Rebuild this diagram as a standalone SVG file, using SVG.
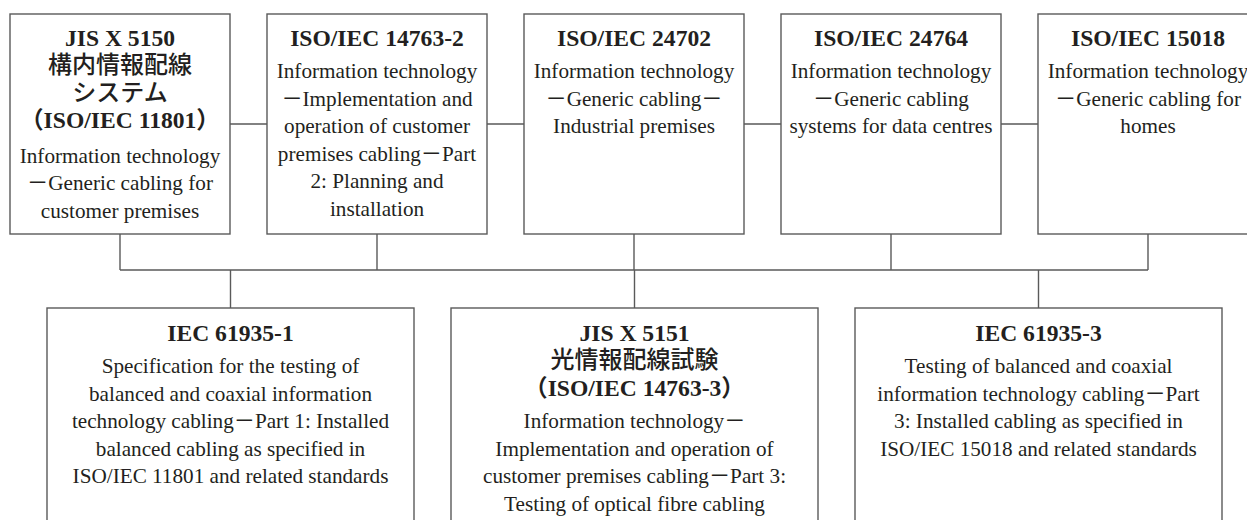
<svg xmlns="http://www.w3.org/2000/svg" width="1247" height="520" viewBox="0 0 1247 520">
<style>
.box{fill:#fff;stroke:#5a5a5a;stroke-width:1.4}
.ln{fill:none;stroke:#5a5a5a;stroke-width:1.4}
text{text-anchor:middle;fill:#231f20}
.t{font-family:"Liberation Serif","Noto Sans CJK JP",serif;font-weight:bold;font-size:23.6px}
.j{font-family:"Noto Sans CJK JP",sans-serif;font-weight:500;font-size:24px}
.b{font-family:"Liberation Serif","Noto Sans CJK JP",serif;font-size:21.2px}
</style>
<rect width="1247" height="520" fill="#fff"/>
<g id="connectors">
<path class="ln" d="M230 124H267M487 124H524M744 124H781M1001 124H1038"/>
<path class="ln" d="M120 234V270M377 234V270M634 234V270M891 234V270M1148 234V270M120 270H1148"/>
<path class="ln" d="M230.5 270V308M634.5 270V308M1038.5 270V308"/>
</g>
<g id="n1">
<rect class="box" x="10" y="14" width="220" height="220"/>
<text class="t" x="120" y="45.5">JIS X 5150</text>
<text class="j" x="120" y="73">構内情報配線</text>
<text class="j" x="120" y="100.5">システム</text>
<text class="t" x="120" y="127.5">（ISO/IEC 11801）</text>
<text class="b" x="120" y="162.5">Information technology</text>
<text class="b" x="120" y="190">－Generic cabling for</text>
<text class="b" x="120" y="217.5">customer premises</text>
</g>
<g id="n2">
<rect class="box" x="267" y="14" width="220" height="220"/>
<text class="t" x="377" y="45.5">ISO/IEC 14763-2</text>
<text class="b" x="377" y="78">Information technology</text>
<text class="b" x="377" y="105.5">－Implementation and</text>
<text class="b" x="377" y="133">operation of customer</text>
<text class="b" x="377" y="160.5">premises cabling－Part</text>
<text class="b" x="377" y="188">2: Planning and</text>
<text class="b" x="377" y="215.5">installation</text>
</g>
<g id="n3">
<rect class="box" x="524" y="14" width="220" height="220"/>
<text class="t" x="634" y="45.5">ISO/IEC 24702</text>
<text class="b" x="634" y="78">Information technology</text>
<text class="b" x="634" y="105.5">－Generic cabling－</text>
<text class="b" x="634" y="133">Industrial premises</text>
</g>
<g id="n4">
<rect class="box" x="781" y="14" width="220" height="220"/>
<text class="t" x="891" y="45.5">ISO/IEC 24764</text>
<text class="b" x="891" y="78">Information technology</text>
<text class="b" x="891" y="105.5">－Generic cabling</text>
<text class="b" x="891" y="133">systems for data centres</text>
</g>
<g id="n5">
<rect class="box" x="1038" y="14" width="220" height="220"/>
<text class="t" x="1148" y="45.5">ISO/IEC 15018</text>
<text class="b" x="1148" y="78">Information technology</text>
<text class="b" x="1148" y="105.5">－Generic cabling for</text>
<text class="b" x="1148" y="133">homes</text>
</g>
<g id="n6">
<rect class="box" x="47" y="308" width="367" height="230"/>
<text class="t" x="230.5" y="340.5">IEC 61935-1</text>
<text class="b" x="230.5" y="373">Specification for the testing of</text>
<text class="b" x="230.5" y="400.6">balanced and coaxial information</text>
<text class="b" x="230.5" y="428.2">technology cabling－Part 1: Installed</text>
<text class="b" x="230.5" y="455.8">balanced cabling as specified in</text>
<text class="b" x="230.5" y="483.4">ISO/IEC 11801 and related standards</text>
</g>
<g id="n7">
<rect class="box" x="451" y="308" width="367" height="230"/>
<text class="t" x="634.5" y="340.5">JIS X 5151</text>
<text class="j" x="634.5" y="368">光情報配線試験</text>
<text class="t" x="634.5" y="395.5">（ISO/IEC 14763-3）</text>
<text class="b" x="634.5" y="428">Information technology－</text>
<text class="b" x="634.5" y="455.5">Implementation and operation of</text>
<text class="b" x="634.5" y="483">customer premises cabling－Part 3:</text>
<text class="b" x="634.5" y="510.5">Testing of optical fibre cabling</text>
</g>
<g id="n8">
<rect class="box" x="855" y="308" width="367" height="230"/>
<text class="t" x="1038.5" y="340.5">IEC 61935-3</text>
<text class="b" x="1038.5" y="373">Testing of balanced and coaxial</text>
<text class="b" x="1038.5" y="400.6">information technology cabling－Part</text>
<text class="b" x="1038.5" y="428.2">3: Installed cabling as specified in</text>
<text class="b" x="1038.5" y="455.8">ISO/IEC 15018 and related standards</text>
</g>
</svg>
